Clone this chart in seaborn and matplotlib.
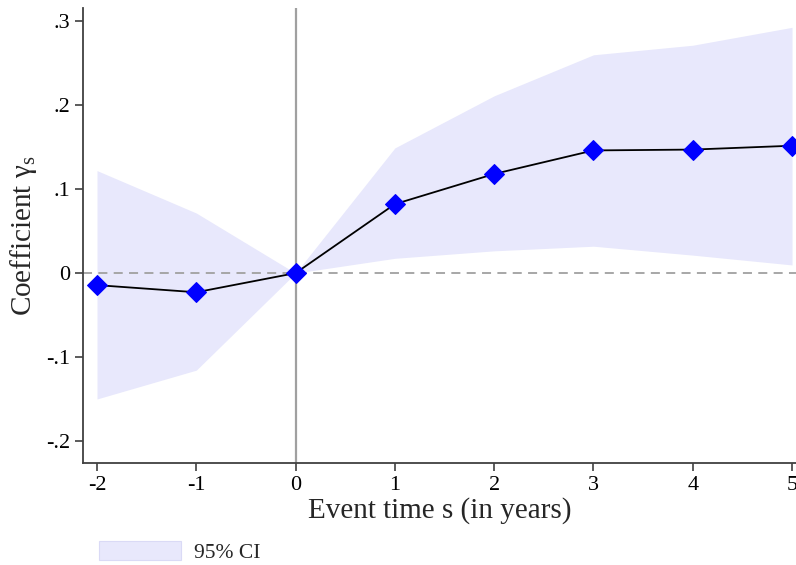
import matplotlib
matplotlib.use("Agg")
import matplotlib.pyplot as plt
import seaborn as sns
import pandas as pd
from matplotlib.patches import Patch

# Data
event_time = [-2, -1, 0, 1, 2, 3, 4, 5]
coef = [-0.0143, -0.0228, 0.0, 0.0821, 0.1180, 0.1460, 0.1470, 0.1516]
ci_upper = [0.1220, 0.0715, 0.0, 0.1490, 0.2110, 0.2598, 0.2712, 0.2925]
ci_lower = [-0.1498, -0.1155, 0.0, 0.0176, 0.0265, 0.0320, 0.0214, 0.0097]
x_ticks = [-2, -1, 0, 1, 2, 3, 4, 5]
x_ticklabels = ["-2", "-1", "0", "1", "2", "3", "4", "5"]
y_ticks = [-0.2, -0.1, 0.0, 0.1, 0.2, 0.3]
y_ticklabels = ["-.2", "-.1", "0", ".1", ".2", ".3"]

df = pd.DataFrame({"s": event_time, "coef": coef, "lo": ci_lower, "hi": ci_upper})

sns.set_style("ticks")
plt.rcParams["font.family"] = ["Liberation Serif", "DejaVu Serif"]
plt.rcParams["axes.unicode_minus"] = False
plt.rcParams["mathtext.fontset"] = "custom"
plt.rcParams["mathtext.rm"] = "Liberation Serif"

fig = plt.figure(figsize=(7.96, 5.65), dpi=100)
ax = fig.add_axes([83 / 796, 102 / 565, 1 - 83 / 796, (463 - 8) / 565])

ci_color = "#E8E8FC"
ax.fill_between(df["s"], df["lo"], df["hi"], color=ci_color, linewidth=0, zorder=1)
ax.axhline(0, color="#A0A0A0", linestyle=(0, (5, 3.5)), linewidth=1.3, zorder=2)
ax.axvline(0, color="#A0A0A0", linewidth=1.6, zorder=2)
sns.lineplot(data=df, x="s", y="coef", ax=ax, color="black", linewidth=1.3,
             marker="D", markersize=10, markerfacecolor="#0000FF",
             markeredgecolor="#0000FF", zorder=3, legend=False)

ax.set_xlim(-2.141, 5.04)
ax.set_ylim(-0.226, 0.3155)
ax.set_xticks(x_ticks)
ax.set_xticklabels(x_ticklabels)
ax.set_yticks(y_ticks)
ax.set_yticklabels(y_ticklabels)
ax.tick_params(axis="both", labelsize=16, length=6, width=1.2, color="#404040", labelcolor="black")
for side in ["top", "right"]:
    ax.spines[side].set_visible(False)
for side in ["left", "bottom"]:
    ax.spines[side].set_color("#404040")
    ax.spines[side].set_linewidth(1.3)

ax.set_xlabel("Event time s (in years)", fontsize=21, labelpad=1)
ax.set_ylabel("Coefficient γ$_{\\mathregular{s}}$", fontsize=21, labelpad=5)

handle = Patch(facecolor=ci_color, edgecolor="#DADAF6", linewidth=0.8, label="95% CI")
fig.legend(handles=[handle], loc="lower left", bbox_to_anchor=(99 / 796, 2 / 565),
           frameon=False, fontsize=15.5, handlelength=3.8, handleheight=1.0,
           handletextpad=0.6, borderpad=0, borderaxespad=0)

fig.savefig("out.png", dpi=100)
